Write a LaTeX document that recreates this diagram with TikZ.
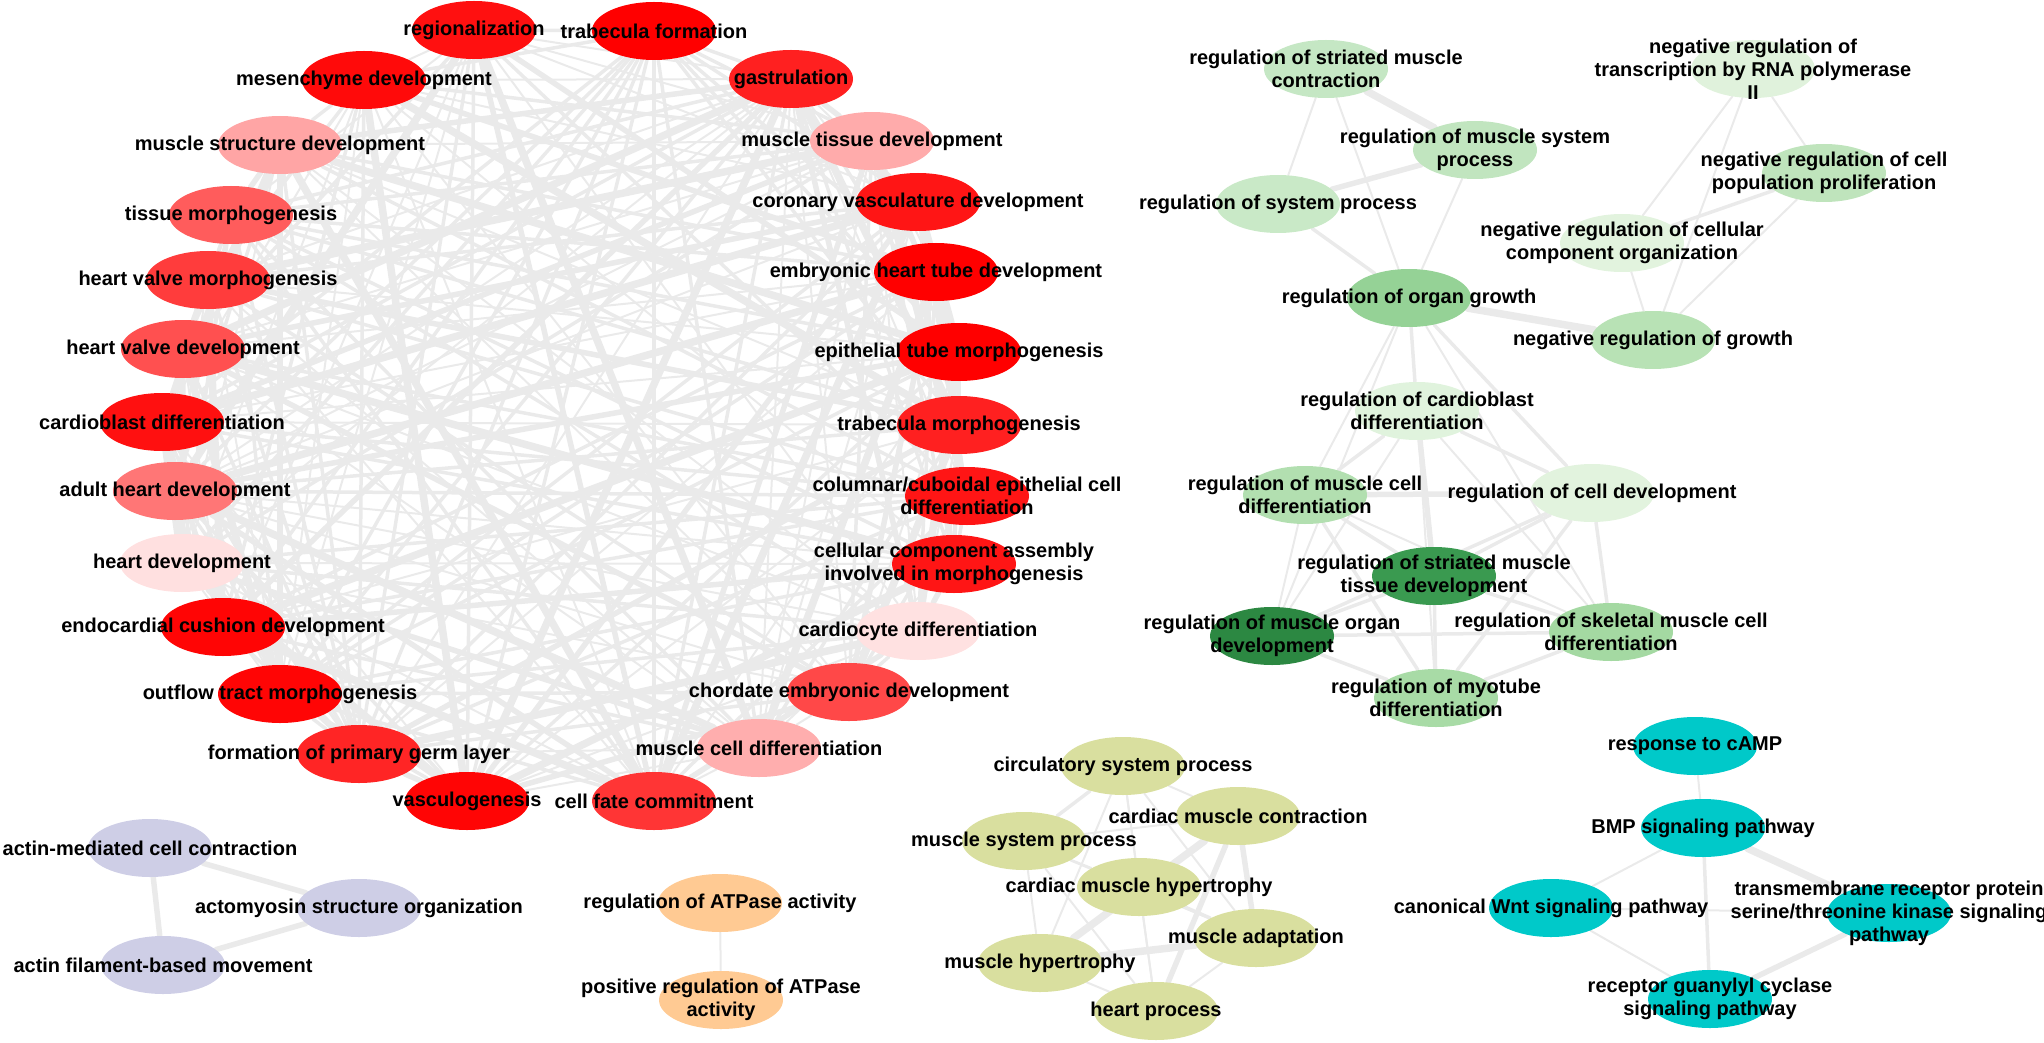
\documentclass[tikz,border=0pt]{standalone}
\usepackage{fontspec}
\setmainfont{Liberation Sans}
\usetikzlibrary{shapes.geometric}
\pgfdeclarelayer{bg}
\pgfdeclarelayer{fg}
\pgfsetlayers{bg,main,fg}
\definecolor{edgec}{RGB}{234,234,234}
\tikzset{
  nd/.style={ellipse, minimum width=62pt, minimum height=29pt, inner sep=0pt, draw=none},
  lbl/.style={font=\bfseries\fontsize{10}{11.5}\selectfont, align=center, inner sep=0pt, text=black},
  edge/.style={draw=edgec, line cap=round},
  e1/.style={edge, line width=1pt},
  e2/.style={edge, line width=1.75pt},
  e3/.style={edge, line width=2.75pt},
  e4/.style={edge, line width=3.75pt}
}
\newcommand\gonode[5]{%
  \definecolor{ndfill}{HTML}{#4}%
  \node[nd, fill=ndfill] (#1) at (#2,#3) {};%
  \begin{pgfonlayer}{fg}\node[lbl] (#1t) at (#1) {#5};\end{pgfonlayer}%
}
\begin{document}
\begin{tikzpicture}[x=0.5pt,y=-0.5pt]
\useasboundingbox (0,0) rectangle (2044,1043);
% ---------------- red cluster ----------------
\gonode{r1}{654}{31}{FF0000}{trabecula formation}
\gonode{r2}{791}{79}{FF2020}{gastrulation}
\gonode{r3}{872}{141}{FFABAB}{muscle tissue development}
\gonode{r4}{918}{202}{FF1515}{coronary vasculature development}
\gonode{r5}{936}{272}{FF0000}{embryonic heart tube development}
\gonode{r6}{959}{352}{FF0000}{epithelial tube morphogenesis}
\gonode{r7}{959}{425}{FF2020}{trabecula morphogenesis}
\gonode{r8}{967}{496}{FF1515}{columnar/cuboidal epithelial cell\\differentiation}
\gonode{r9}{954}{564}{FF1515}{cellular component assembly\\involved in morphogenesis}
\gonode{r10}{918}{631}{FFE1E1}{cardiocyte differentiation}
\gonode{r11}{849}{692}{FF4848}{chordate embryonic development}
\gonode{r12}{759}{748}{FFAEAE}{muscle cell differentiation}
\gonode{r13}{654}{801}{FF3535}{cell fate commitment}
\gonode{r14}{467}{801}{FF0505}{vasculogenesis}
\gonode{r15}{359}{754}{FF2525}{formation of primary germ layer}
\gonode{r16}{280}{694}{FF0505}{outflow tract morphogenesis}
\gonode{r17}{223}{627}{FF0505}{endocardial cushion development}
\gonode{r18}{182}{563}{FFE0E0}{heart development}
\gonode{r19}{175}{491}{FF7676}{adult heart development}
\gonode{r20}{162}{422}{FF1010}{cardioblast differentiation}
\gonode{r21}{183}{349}{FF5050}{heart valve development}
\gonode{r22}{208}{280}{FF3C3C}{heart valve morphogenesis}
\gonode{r23}{231}{215}{FF5C5C}{tissue morphogenesis}
\gonode{r24}{280}{145}{FFA5A5}{muscle structure development}
\gonode{r25}{364}{80}{FF0A0A}{mesenchyme development}
\gonode{r26}{474}{30}{FF1010}{regionalization}
% ---------------- green cluster ----------------
\gonode{g1}{1326}{69}{C5E7C4}{regulation of striated muscle\\contraction}
\gonode{g2}{1475}{150}{C1E5BF}{regulation of muscle system\\process}
\gonode{g3}{1278}{204}{C9E9C7}{regulation of system process}
\gonode{g4}{1753}{69}{E0F2DC}{negative regulation of\\transcription by RNA polymerase\\II}
\gonode{g5}{1824}{173}{BFE4BC}{negative regulation of cell\\population proliferation}
\gonode{g6}{1622}{243}{E2F3DE}{negative regulation of cellular\\component organization}
\gonode{g7}{1409}{298}{95D296}{regulation of organ growth}
\gonode{g8}{1653}{340}{B8E2B5}{negative regulation of growth}
\gonode{g9}{1417}{411}{E0F3DD}{regulation of cardioblast\\differentiation}
\gonode{g10}{1305}{495}{B2DFB0}{regulation of muscle cell\\differentiation}
\gonode{g11}{1592}{493}{E2F3DE}{regulation of cell development}
\gonode{g12}{1434}{576}{3A9A50}{regulation of striated muscle\\tissue development}
\gonode{g13}{1272}{636}{2C8842}{regulation of muscle organ\\development}
\gonode{g14}{1611}{632}{A4D9A2}{regulation of skeletal muscle cell\\differentiation}
\gonode{g15}{1436}{698}{A8DBA6}{regulation of myotube\\differentiation}
% ---------------- olive cluster ----------------
\gonode{o1}{1123}{766}{D9DF9F}{circulatory system process}
\gonode{o2}{1238}{816}{D9DF9F}{cardiac muscle contraction}
\gonode{o3}{1024}{841}{D9DF9F}{muscle system process}
\gonode{o4}{1139}{887}{D9DF9F}{cardiac muscle hypertrophy}
\gonode{o5}{1256}{938}{D9DF9F}{muscle adaptation}
\gonode{o6}{1040}{963}{D9DF9F}{muscle hypertrophy}
\gonode{o7}{1156}{1011}{D9DF9F}{heart process}
% ---------------- purple cluster ----------------
\gonode{p1}{150}{848}{CECEE6}{actin-mediated cell contraction}
\gonode{p2}{359}{908}{CECEE6}{actomyosin structure organization}
\gonode{p3}{163}{965}{CECEE6}{actin filament-based movement}
% ---------------- orange cluster ----------------
\gonode{a1}{720}{903}{FFCA93}{regulation of ATPase activity}
\gonode{a2}{721}{1000}{FFCA93}{positive regulation of ATPase\\activity}
% ---------------- cyan cluster ----------------
\gonode{c1}{1695}{746}{00C9C9}{response to cAMP}
\gonode{c2}{1703}{828}{00C9C9}{BMP signaling pathway}
\gonode{c3}{1551}{908}{00C9C9}{canonical Wnt signaling pathway}
\gonode{c4}{1889}{913}{00C9C9}{transmembrane receptor protein\\serine/threonine kinase signaling\\pathway}
\gonode{c5}{1710}{999}{00C9C9}{receptor guanylyl cyclase\\signaling pathway}
% ---------------- edges ----------------
\begin{pgfonlayer}{bg}
\foreach \i in {1,...,25}{
  \pgfmathtruncatemacro{\jstart}{\i+1}
  \foreach \j in {\jstart,...,26}{
    \pgfmathtruncatemacro{\ek}{mod(7*\i+11*\j+\i*\j,13)}
    \pgfmathtruncatemacro{\ew}{mod(3*\i+5*\j+2*\i*\j,7)}
    \ifnum\ek<9
      \ifnum\ew<3 \draw[e1] (r\i) -- (r\j);
      \else\ifnum\ew<5 \draw[e2] (r\i) -- (r\j);
      \else\ifnum\ew<6 \draw[e3] (r\i) -- (r\j);
      \else \draw[e4] (r\i) -- (r\j);
      \fi\fi\fi
    \fi
  }
}
% green upper
\draw[e4] (g1) -- (g2);
\draw[e1] (g1) -- (g3);
\draw[e1] (g1) -- (g7);
\draw[e3] (g2) -- (g3);
\draw[e1] (g2) -- (g7);
\draw[e2] (g3) -- (g7);
\draw[e1] (g4) -- (g6);
\draw[e1] (g4) -- (g8);
\draw[e1] (g4) -- (g5);
\draw[e2] (g5) -- (g6);
\draw[e1] (g5) -- (g8);
\draw[e1] (g6) -- (g8);
\draw[e4] (g7) -- (g8);
% green lower
\draw[e2] (g7) -- (g9);
\draw[e1] (g7) -- (g10);
\draw[e1] (g7) -- (g13);
\draw[e2] (g7) -- (g11);
\draw[e1] (g7) -- (g14);
\draw[e2] (g9) -- (g10);
\draw[e2] (g9) -- (g11);
\draw[e3] (g9) -- (g12);
\draw[e1] (g9) -- (g13);
\draw[e1] (g9) -- (g14);
\draw[e1] (g9) -- (g15);
\draw[e3] (g10) -- (g11);
\draw[e2] (g10) -- (g12);
\draw[e1] (g10) -- (g13);
\draw[e2] (g10) -- (g15);
\draw[e1] (g10) -- (g14);
\draw[e2] (g11) -- (g12);
\draw[e2] (g11) -- (g13);
\draw[e2] (g11) -- (g14);
\draw[e2] (g11) -- (g15);
\draw[e2] (g12) -- (g13);
\draw[e2] (g12) -- (g14);
\draw[e2] (g12) -- (g15);
\draw[e2] (g13) -- (g14);
\draw[e2] (g13) -- (g15);
\draw[e2] (g14) -- (g15);
% olive
\draw[e1] (o1) -- (o2);
\draw[e2] (o1) -- (o3);
\draw[e1] (o1) -- (o4);
\draw[e1] (o1) -- (o5);
\draw[e1] (o1) -- (o6);
\draw[e1] (o1) -- (o7);
\draw[e1] (o2) -- (o3);
\draw[e1] (o2) -- (o4);
\draw[e3] (o2) -- (o5);
\draw[e4] (o2) -- (o6);
\draw[e3] (o2) -- (o7);
\draw[e1] (o3) -- (o4);
\draw[e1] (o3) -- (o5);
\draw[e1] (o3) -- (o6);
\draw[e1] (o3) -- (o7);
\draw[e2] (o4) -- (o5);
\draw[e2] (o4) -- (o6);
\draw[e1] (o4) -- (o7);
\draw[e4] (o5) -- (o6);
\draw[e1] (o5) -- (o7);
\draw[e1] (o6) -- (o7);
% purple
\draw[e3] (p1) -- (p2);
\draw[e3] (p1) -- (p3);
\draw[e3] (p2) -- (p3);
% orange
\draw[e1] (a1) -- (a2);
% cyan
\draw[e1] (c1) -- (c2);
\draw[e1] (c2) -- (c3);
\draw[e4] (c2) -- (c4);
\draw[e2] (c2) -- (c5);
\draw[e1] (c3) -- (c4);
\draw[e1] (c3) -- (c5);
\draw[e3] (c4) -- (c5);
\end{pgfonlayer}
\end{tikzpicture}
\end{document}
